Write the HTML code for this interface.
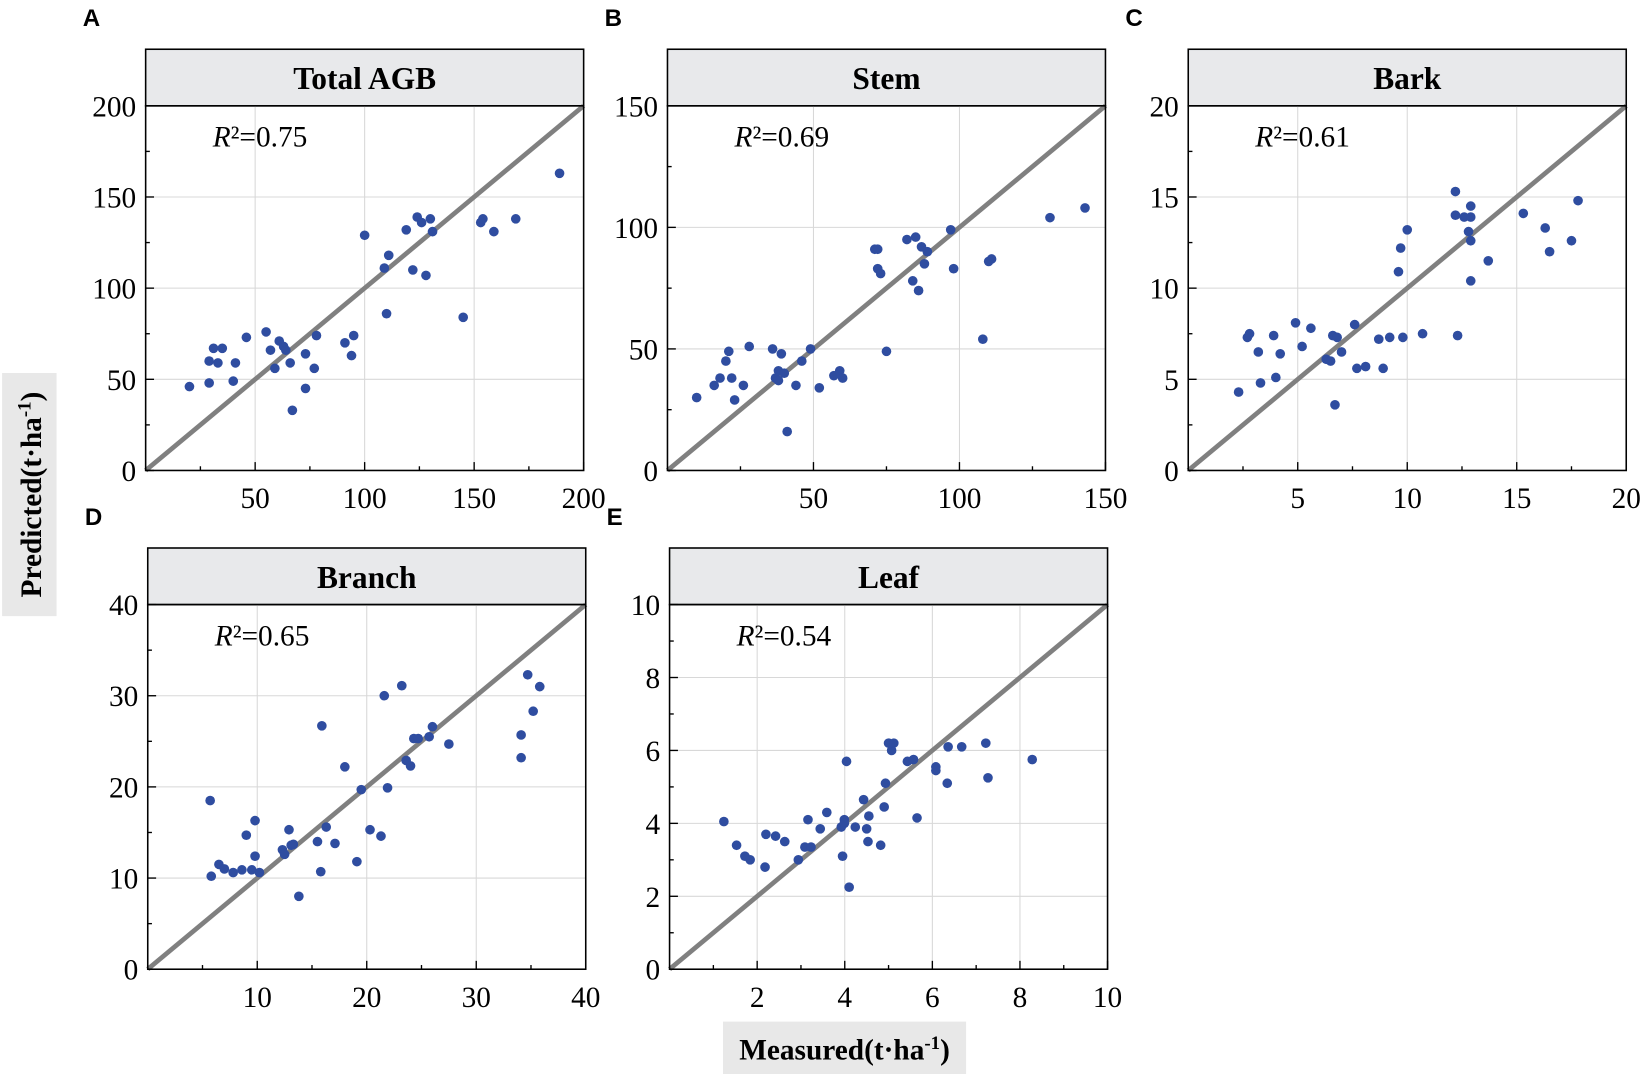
<!DOCTYPE html>
<html><head><meta charset="utf-8">
<style>
html,body{margin:0;padding:0;background:#fff;}
svg{display:block;font-family:"Liberation Serif",serif;}
</style></head>
<body>
<svg id="fig" width="1643" height="1074" viewBox="0 0 1568 1025" preserveAspectRatio="none" xmlns="http://www.w3.org/2000/svg">
<rect x="0" y="0" width="1568" height="1025" fill="#fff"/>
<rect x="2" y="356" width="52" height="232" fill="#e8e8e8"/>
<text transform="translate(39,472) rotate(-90)" text-anchor="middle" font-size="28" font-weight="bold">Predicted(t·ha<tspan dy="-10" font-size="18">-1</tspan><tspan dy="10">)</tspan></text>
<rect x="690" y="975" width="232" height="50" fill="#e8e8e8"/>
<text x="806" y="1011" text-anchor="middle" font-size="28" font-weight="bold">Measured(t·ha<tspan dy="-10" font-size="18">-1</tspan><tspan dy="10">)</tspan></text>
</svg>
<script>
// Panel A: Total AGB
const aX=[20,29,29,31,33,35,40,41,46,55,57,59,61,63,64,66,67,73,73,77,78,91,94,95,100,109,111,110,119,122,124,126,128,130,131,145,153,154,159,169,189];
const aY=[46,48,60,67,59,67,49,59,73,76,66,56,71,68,66,59,33,64,45,56,74,70,63,74,129,111,118,86,132,110,139,136,107,138,131,84,136,138,131,138,163];
const aXTicks=[50,100,150,200];
const aYTicks=[0,50,100,150,200];
// Panel B: Stem
const bX=[10,16,18,20,21,22,23,26,28,36,37,38,38,39,40,41,44,46,49,52,57,59,60,71,72,72,73,75,82,84,85,86,87,88,89,97,98,108,110,111,131,143];
const bY=[30,35,38,45,49,38,29,35,51,50,38,41,37,48,40,16,35,45,50,34,39,41,38,91,91,83,81,49,95,78,96,74,92,85,90,99,83,54,86,87,104,108];
const bXTicks=[50,100,150];
const bYTicks=[0,50,100,150];
// Panel C: Bark
const cX=[2.3,2.7,2.8,3.2,3.3,3.9,4.0,4.2,4.9,5.2,5.6,6.3,6.5,6.6,6.7,6.8,7.0,7.6,7.7,8.1,8.7,8.9,9.2,9.6,9.7,9.8,10.0,10.7,12.2,12.2,12.3,12.6,12.8,12.9,12.9,12.9,12.9,13.7,15.3,16.3,16.5,17.5,17.8];
const cY=[4.3,7.3,7.5,6.5,4.8,7.4,5.1,6.4,8.1,6.8,7.8,6.1,6.0,7.4,3.6,7.3,6.5,8.0,5.6,5.7,7.2,5.6,7.3,10.9,12.2,7.3,13.2,7.5,15.3,14.0,7.4,13.9,13.1,13.9,14.5,12.6,10.4,11.5,14.1,13.3,12.0,12.6,14.8];
const cXTicks=[5,10,15,20];
const cYTicks=[0,5,10,15,20];
// Panel D: Branch
const dX=[5.7,5.8,6.5,7.0,7.8,8.6,9.0,9.5,9.8,9.8,10.2,12.3,12.5,12.9,13.1,13.3,13.8,15.5,15.8,15.9,16.3,17.1,18.0,19.1,19.5,20.3,21.3,21.6,21.9,23.2,23.6,24.0,24.3,24.7,25.7,26.0,27.5,34.1,34.1,34.7,35.2,35.8];
const dY=[18.5,10.2,11.5,11.0,10.6,10.9,14.7,10.9,12.4,16.3,10.6,13.1,12.6,15.3,13.6,13.7,8.0,14.0,10.7,26.7,15.6,13.8,22.2,11.8,19.7,15.3,14.6,30.0,19.9,31.1,22.9,22.3,25.3,25.3,25.5,26.6,24.7,25.7,23.2,32.3,28.3,31.0];
const dXTicks=[10,20,30,40];
const dYTicks=[0,10,20,30,40];
// Panel E: Leaf
const eX=[1.24,1.53,1.72,1.84,2.18,2.2,2.42,2.63,2.94,3.09,3.16,3.23,3.44,3.59,3.92,3.95,3.99,3.99,4.04,4.1,4.24,4.43,4.5,4.53,4.55,4.82,4.9,4.93,5.0,5.07,5.12,5.43,5.57,5.65,6.08,6.08,6.34,6.36,6.67,7.22,7.27,8.28];
const eY=[4.05,3.4,3.1,3.0,2.8,3.7,3.65,3.5,3.0,3.35,4.1,3.35,3.85,4.3,3.9,3.1,4.1,4.0,5.7,2.25,3.9,4.65,3.85,3.5,4.2,3.4,4.45,5.1,6.2,6.0,6.2,5.7,5.75,4.15,5.55,5.45,5.1,6.1,6.1,6.2,5.25,5.75];
const eXTicks=[2,4,6,8,10];
const eYTicks=[0,2,4,6,8,10];

const NS="http://www.w3.org/2000/svg";
const svg=document.getElementById('fig');
function mk(tag,attrs,parent){const e=document.createElementNS(NS,tag);for(const k in attrs)e.setAttribute(k,attrs[k]);(parent||svg).appendChild(e);return e;}

function panel(id,letter,title,r2,L,T,max,xs,ys,xt,yt){
  const W=418,H=348,R=L+W,B=T+H;
  const g=mk('g',{});
  
  
  const sx=v=>L+v/max*W, sy=v=>B-v/max*H;
  const st=mk('rect',{x:L,y:T-54,width:W,height:54,fill:'#e8e9eb',stroke:'#000','stroke-width':1.5},g);
  
  
  const tt=mk('text',{x:L+W/2,y:T-16,'text-anchor':'middle','font-size':30,'font-weight':'bold'},g);
  tt.textContent=title;
  
  
  const lt=mk('text',{x:L-60,y:T-76,'font-size':23,'font-weight':'bold','font-family':'Liberation Sans, sans-serif'},g);
  lt.textContent=letter;
  
  
  const step=xt.length>1?xt[1]-xt[0]:max;
  for(let v=step;v<max;v+=step){
    const gl=mk('line',{x1:sx(v),x2:sx(v),y1:T,y2:B,stroke:'#d8d8d8','stroke-width':1},g);
    
    
  }
  for(const v of yt){ if(v<=0||v>=max)continue;
    const gl=mk('line',{x1:L,x2:R,y1:sy(v),y2:sy(v),stroke:'#d8d8d8','stroke-width':1},g);
    
    
  }
  const dl=mk('line',{x1:sx(0),y1:sy(0),x2:sx(max),y2:sy(max),stroke:'#808080','stroke-width':4.5},g);
  
  
  for(let i=0;i<xs.length;i++){
    const c=mk('circle',{cx:sx(xs[i]),cy:sy(ys[i]),r:4.6,fill:'#2f4da0'},g);
    
    
  }
  const fr=mk('rect',{x:L,y:T,width:W,height:H,fill:'none',stroke:'#000','stroke-width':1.5},g);
  
  
  for(const v of xt){
    mk('line',{x1:sx(v),x2:sx(v),y1:B,y2:B-8,stroke:'#000','stroke-width':1.3},g);
    mk('line',{x1:sx(v-step/2),x2:sx(v-step/2),y1:B,y2:B-4,stroke:'#000','stroke-width':1.3},g);
    const t=mk('text',{x:sx(v),y:B+36,'text-anchor':'middle','font-size':28},g);
    t.textContent=v;
    
    
  }
  const ys2=yt.length>1?yt[1]-yt[0]:max;
  for(const v of yt){
    mk('line',{x1:L,x2:L+8,y1:sy(v),y2:sy(v),stroke:'#000','stroke-width':1.3},g);
    if(v<max)mk('line',{x1:L,x2:L+4,y1:sy(v+ys2/2),y2:sy(v+ys2/2),stroke:'#000','stroke-width':1.3},g);
    const t=mk('text',{x:L-9,y:sy(v)+10,'text-anchor':'end','font-size':28},g);
    t.textContent=v;
    
    
  }
  const rt=mk('text',{x:L+64,y:T+39,'font-size':28},g);
  rt.innerHTML='<tspan font-style="italic">R</tspan>²=' + r2;
  
  
}
panel('total-agb','A','Total AGB','0.75',139,101,200,aX,aY,aXTicks,aYTicks);
panel('stem','B','Stem','0.69',637,101,150,bX,bY,bXTicks,bYTicks);
panel('bark','C','Bark','0.61',1134,101,20,cX,cY,cXTicks,cYTicks);
panel('branch','D','Branch','0.65',141,577,40,dX,dY,dXTicks,dYTicks);
panel('leaf','E','Leaf','0.54',639,577,10,eX,eY,eXTicks,eYTicks);
</script>
</body></html>
